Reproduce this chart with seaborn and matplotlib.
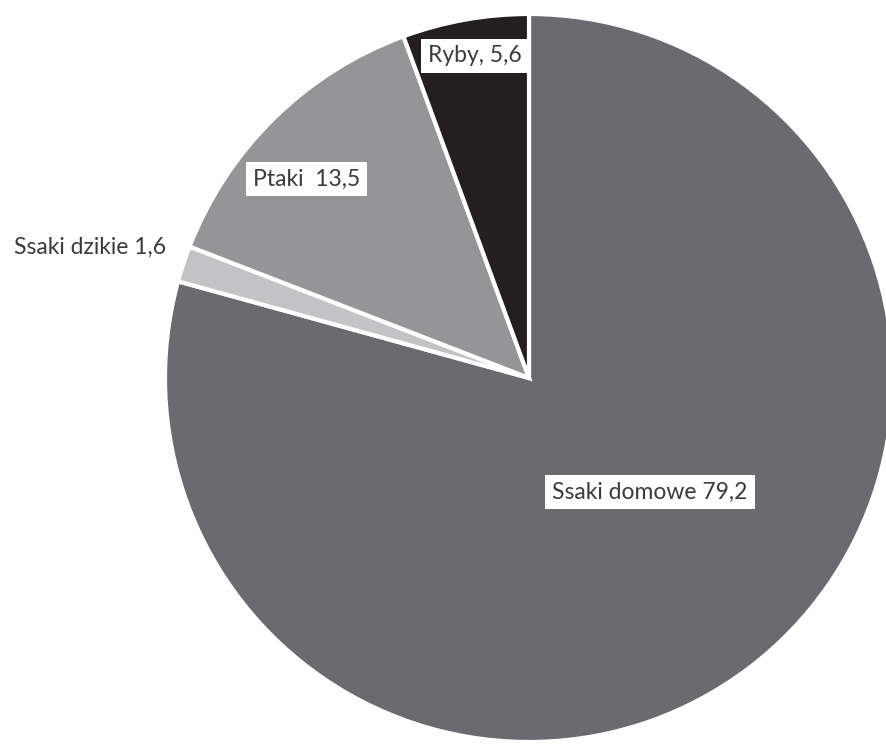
import matplotlib
matplotlib.use("Agg")
import matplotlib.pyplot as plt
import seaborn as sns

sns.set_theme(style="white")
plt.rcParams["font.family"] = ["Lato", "DejaVu Sans"]

# Share of each animal group (%)
categories = ["Ssaki domowe", "Ssaki dzikie", "Ptaki", "Ryby"]
values = [79.2, 1.6, 13.5, 5.6]
labels = ["Ssaki domowe 79,2", "Ssaki dzikie 1,6", "Ptaki  13,5", "Ryby, 5,6"]
colors = ["#6b6b6f", "#c3c3c5", "#959597", "#231f20"]

W, H = 886, 744
fig = plt.figure(figsize=(W / 100, H / 100), dpi=100)
ax = fig.add_axes([0, 0, 1, 1])

cx, cy, r = 529, H - 378, 364
ax.pie(values, colors=colors, startangle=90, counterclock=False,
       center=(cx, cy), radius=r, frame=True,
       wedgeprops=dict(edgecolor="white", linewidth=3))
ax.set_xlim(0, W)
ax.set_ylim(0, H)
ax.set_aspect("equal")
ax.axis("off")

box = dict(boxstyle="square,pad=0.3", facecolor="white", edgecolor="none")
txt = dict(fontsize=16.5, color="#3b3b3b", ha="center", va="center")
ax.text(650, H - 492, labels[0], bbox=box, **txt)
ax.text(90, H - 247, labels[1], **txt)
ax.text(307, H - 179, labels[2], bbox=box, **txt)
ax.text(475, H - 56, labels[3], bbox=box, **txt)

fig.savefig("out.png", dpi=100)
